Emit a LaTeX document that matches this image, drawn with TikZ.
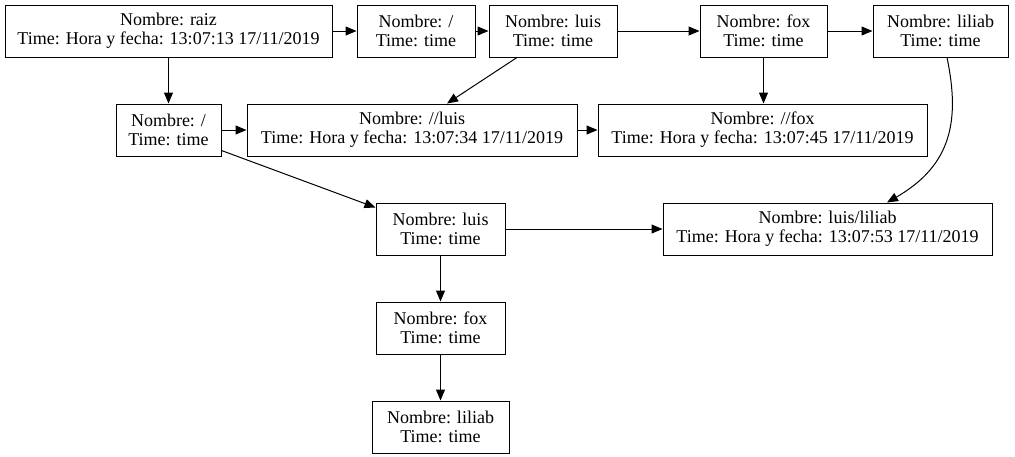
\documentclass[tikz,border=0pt]{standalone}
\usepackage{fontspec}
\setmainfont{Liberation Serif}
\newfontfamily\timesfont{Liberation Serif}
\usetikzlibrary{arrows.meta}
\tikzset{
  box/.style={draw, line width=1pt, align=center, inner sep=0pt, font=\timesfont\fontsize{18}{19}\selectfont},
  edge/.style={line width=1pt, -{Triangle[length=11pt,width=9pt]}}
}
\begin{document}
\begin{tikzpicture}[x=1pt,y=-1pt]
\useasboundingbox (0,0) rectangle (1015,456);
\node[box, minimum width=327pt, minimum height=52pt] (raiz) at (168.5,31) {Nombre: raiz\\Time: Hora y fecha: 13:07:13 17/11/2019};
\node[box, minimum width=118pt, minimum height=52pt] (sl1) at (416,31) {Nombre: /\\Time: time};
\node[box, minimum width=128pt, minimum height=52pt] (luis1) at (553,31) {Nombre: luis\\Time: time};
\node[box, minimum width=127pt, minimum height=52pt] (fox1) at (763.5,31) {Nombre: fox\\Time: time};
\node[box, minimum width=135pt, minimum height=52pt] (lil1) at (940.5,31) {Nombre: liliab\\Time: time};
\node[box, minimum width=105pt, minimum height=52pt] (sl2) at (168.5,130) {Nombre: /\\Time: time};
\node[box, minimum width=330pt, minimum height=52pt] (dluis) at (412,130) {Nombre: //luis\\Time: Hora y fecha: 13:07:34 17/11/2019};
\node[box, minimum width=329pt, minimum height=52pt] (dfox) at (762.5,130) {Nombre: //fox\\Time: Hora y fecha: 13:07:45 17/11/2019};
\node[box, minimum width=129pt, minimum height=52pt] (luis2) at (440.5,229) {Nombre: luis\\Time: time};
\node[box, minimum width=329pt, minimum height=52pt] (ll) at (827.5,229) {Nombre: luis/liliab\\Time: Hora y fecha: 13:07:53 17/11/2019};
\node[box, minimum width=129pt, minimum height=52pt] (fox2) at (440.5,328) {Nombre: fox\\Time: time};
\node[box, minimum width=137pt, minimum height=52pt] (lil2) at (440.5,427) {Nombre: liliab\\Time: time};

\draw[edge] (raiz) -- (sl1);
\draw[edge] (sl1) -- (luis1);
\draw[edge] (luis1) -- (fox1);
\draw[edge] (fox1) -- (lil1);
\draw[edge] (raiz) -- (sl2);
\draw[edge] ([xshift=-36pt]luis1.south) -- ([xshift=35pt]dluis.north);
\draw[edge] (sl2) -- (dluis);
\draw[edge] (dluis) -- (dfox);
\draw[edge] (fox1.south) -- (fox1.south |- dfox.north);
\draw[edge] ([yshift=6pt]sl2.south east) -- ([yshift=-5pt]luis2.north west);
\draw[edge] (luis2) -- (ll);
\draw[edge] ([xshift=6.5pt]lil1.south) .. controls (960,120) and (952,165) .. ([xshift=59.5pt]ll.north);
\draw[edge] (luis2) -- (fox2);
\draw[edge] (fox2) -- (lil2);
\end{tikzpicture}
\end{document}
